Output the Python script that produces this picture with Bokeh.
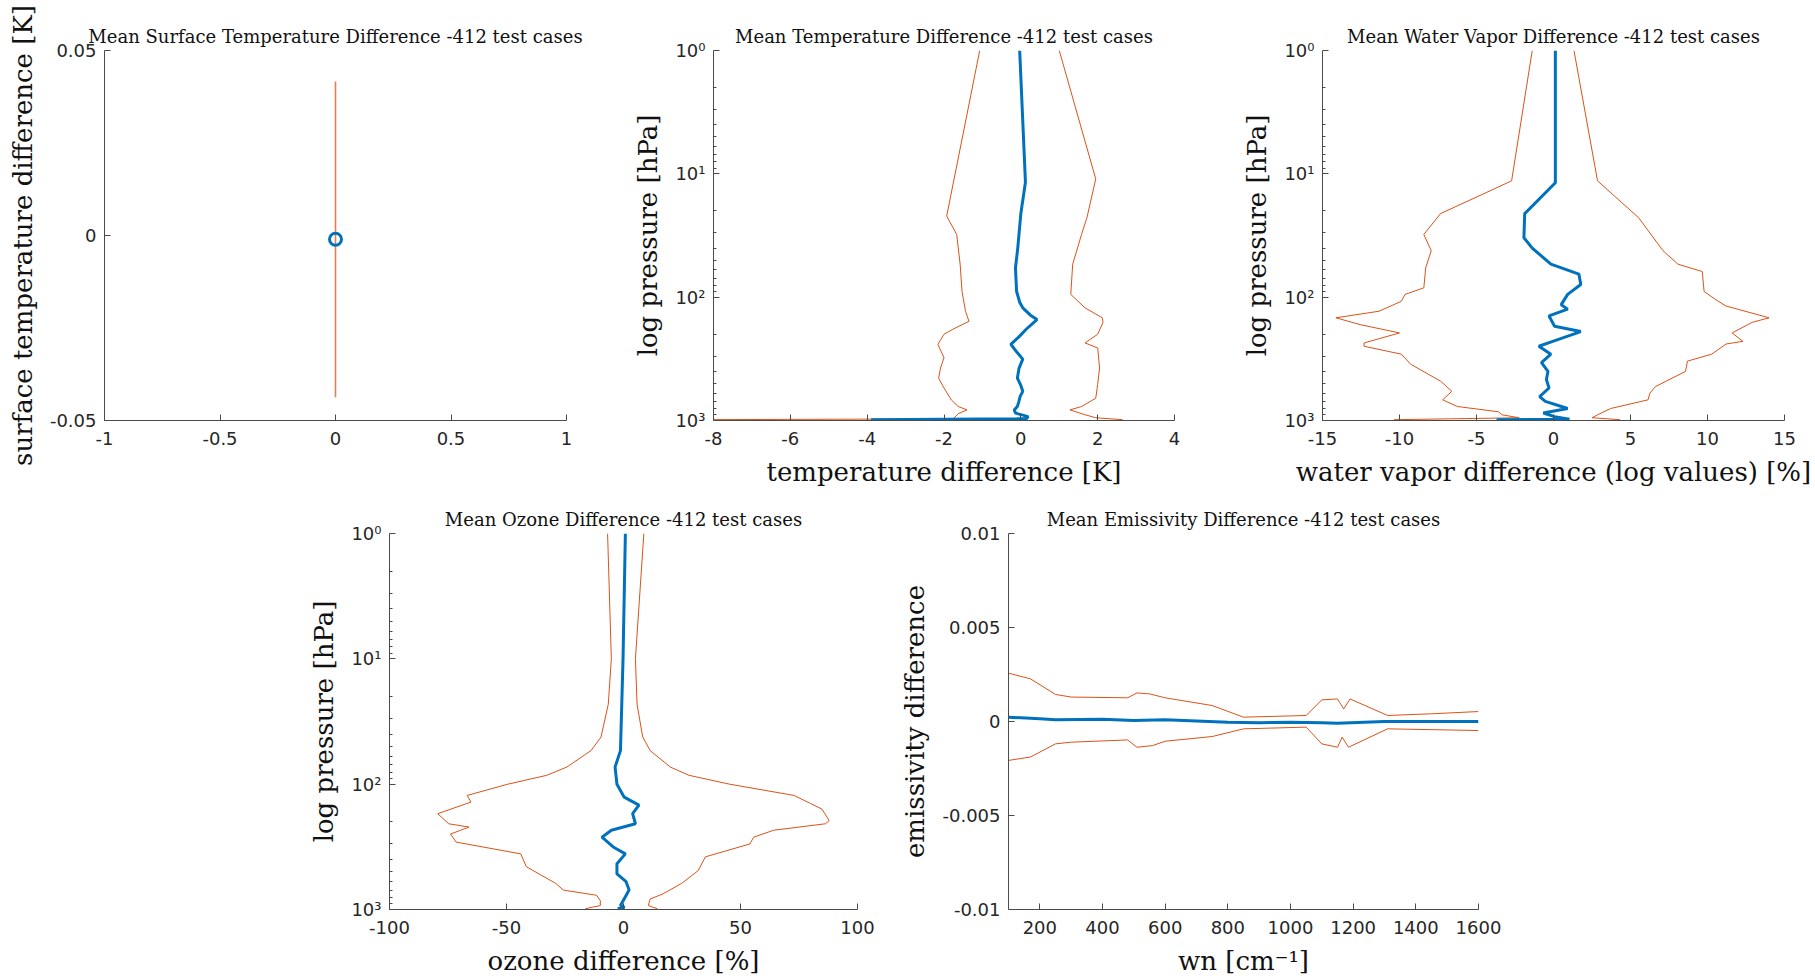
from bokeh.plotting import figure
from bokeh.models import Range1d, FixedTicker, Spacer
from bokeh.layouts import row, column
from bokeh.embed import file_html
from bokeh.resources import INLINE

# ---------------- data ----------------
# Surface temperature (single mean point with spread)
st_x = [0.0]
st_mean = [-0.001]
st_lo = [-0.0437]
st_hi = [0.0416]

# Temperature difference profiles [K] vs pressure [hPa]
temp_mean_p = [1, 11.7, 21, 40, 58, 90, 110, 122, 140, 152, 182, 210, 241, 280, 318, 380, 454, 520, 580, 640, 700, 770, 820, 870, 930, 965, 985]
temp_mean = [-0.03, 0.12, 0.0, -0.08, -0.14, -0.11, -0.03, 0.05, 0.25, 0.42, 0.14, -0.05, -0.26, -0.1, 0.05, -0.05, -0.09, 0.0, 0.05, -0.02, -0.05, -0.09, -0.17, -0.14, 0.19, 0.15, -3.9]
temp_lo_p = [1, 22, 31, 54, 90, 130, 157, 182, 200, 241, 310, 375, 454, 545, 680, 770, 820, 880, 940, 970, 985]
temp_lo = [-1.07, -1.93, -1.67, -1.58, -1.53, -1.44, -1.35, -1.77, -2.0, -2.16, -2.0, -2.09, -2.14, -2.0, -1.81, -1.63, -1.4, -1.63, -1.72, -1.77, -8.5]
temp_hi_p = [1, 11, 22.7, 31, 54, 95, 122, 147, 160, 200, 235, 258, 375, 510, 660, 770, 820, 890, 950, 985]
temp_hi = [1.0, 1.95, 1.72, 1.58, 1.35, 1.3, 1.67, 2.12, 2.14, 2.0, 1.67, 2.0, 2.05, 2.0, 1.95, 1.58, 1.28, 1.63, 1.95, 2.65]

# Water vapour difference profiles [%]
wv_mean_p = [1, 11.8, 21, 33, 40, 54, 65, 79, 95, 115, 125, 142, 172, 190, 228, 250, 290, 340, 400, 465, 545, 640, 700, 800, 870, 930, 975, 985]
wv_mean = [0.12, 0.12, -1.87, -1.92, -1.38, -0.17, 1.65, 1.77, 0.92, 0.5, 0.92, -0.29, 0.07, 1.77, -0.05, -0.95, -0.17, -0.78, -0.36, -0.46, -0.29, -0.9, -0.53, 0.92, -0.66, 0.07, 1.04, -3.7]
wv_lo_p = [1, 11.4, 21, 31, 42, 58, 84, 95, 108, 130, 147, 167, 195, 235, 250, 290, 350, 480, 580, 680, 770, 850, 900, 950, 985]
wv_lo = [-1.38, -2.72, -7.33, -8.42, -7.94, -8.3, -8.42, -9.64, -9.88, -11.33, -14.13, -12.55, -10.0, -12.3, -12.3, -9.88, -9.27, -7.33, -6.6, -7.2, -6.24, -3.57, -3.33, -2.23, -10.36]
wv_hi_p = [1, 11.4, 22.7, 42, 54, 62, 90, 104, 118, 147, 160, 195, 228, 240, 290, 330, 400, 530, 600, 680, 800, 900, 950, 985]
wv_hi = [1.33, 2.86, 5.53, 7.11, 8.08, 9.66, 9.78, 10.5, 11.2, 14.0, 12.9, 11.6, 12.3, 11.2, 10.27, 8.7, 8.57, 6.63, 6.26, 6.14, 3.7, 2.86, 2.5, 4.32]

# Ozone difference profiles [%]
oz_mean_p = [1, 10, 54, 73, 100, 127, 147, 172, 207, 233, 265, 317, 360, 432, 520, 600, 700, 790, 930, 960, 985]
oz_mean = [0.8, -0.2, -1.3, -3.6, -2.8, 0.3, 6.6, 3.9, 5.1, -5.2, -9.2, -4.4, 0.8, -2.8, -2.8, 1.1, 2.4, 0.8, -1.3, 0.5, -2.5]
oz_lo_p = [1, 10, 23, 42, 54, 73, 85, 100, 123, 139, 172, 207, 220, 250, 290, 360, 456, 620, 700, 770, 850, 930, 985]
oz_lo = [-6.8, -5.2, -6.5, -9.6, -13.9, -24.2, -32.8, -49.4, -66.8, -65.2, -79.4, -74.7, -66.0, -73.9, -71.5, -43.9, -41.5, -28.9, -25.7, -11.5, -9.9, -9.9, -16.3]
oz_hi_p = [1, 10, 23, 42, 54, 73, 85, 100, 123, 143, 158, 195, 207, 233, 265, 300, 380, 490, 620, 750, 825, 930, 985]
oz_hi = [8.7, 5.1, 5.8, 8.2, 11.4, 20, 28, 45.3, 72.9, 80, 84.8, 87.9, 86.3, 64.2, 55.6, 54, 35, 31.9, 24.8, 16.9, 11.4, 10.6, 14.5]

# Emissivity difference vs wavenumber [cm-1]
em_mean_wn = [100, 200, 250, 400, 500, 600, 800, 900, 1000, 1100, 1150, 1300, 1600]
em_mean = [0.00023, 0.00014, 0.00009, 0.00012, 0.00005, 0.00009, -0.00004, -0.00007, -0.00004, -0.00007, -0.00009, 0.0, 0.0]
em_hi_wn = [100, 170, 250, 300, 480, 510, 550, 600, 750, 850, 1050, 1100, 1150, 1160, 1170, 1190, 1310, 1450, 1600]
em_hi = [0.00257, 0.00227, 0.00144, 0.0013, 0.00126, 0.00152, 0.00147, 0.00126, 0.00085, 0.00023, 0.00032, 0.00115, 0.0012, 0.00094, 0.00067, 0.0012, 0.00032, 0.00041, 0.00053]
em_lo_wn = [100, 170, 250, 300, 480, 510, 560, 600, 750, 850, 1050, 1100, 1150, 1165, 1185, 1310, 1600]
em_lo = [-0.00207, -0.00189, -0.00119, -0.0011, -0.00098, -0.00137, -0.00128, -0.00105, -0.0008, -0.00039, -0.0003, -0.00119, -0.00137, -0.00083, -0.00137, -0.00039, -0.00048]

# Ticks
p_ticks = [1, 10, 100, 1000]
p_tick_labels = ["10\u2070", "10\u00b9", "10\u00b2", "10\u00b3"]
p_minor = [m * d for d in (1, 10, 100) for m in range(2, 10)]
st_xticks = [-1, -0.5, 0, 0.5, 1]
st_xlabels = ["-1", "-0.5", "0", "0.5", "1"]
st_yticks = [-0.05, 0, 0.05]
st_ylabels = ["-0.05", "0", "0.05"]
temp_xticks = [-8, -6, -4, -2, 0, 2, 4]
temp_xlabels = ["-8", "-6", "-4", "-2", "0", "2", "4"]
wv_xticks = [-15, -10, -5, 0, 5, 10, 15]
wv_xlabels = ["-15", "-10", "-5", "0", "5", "10", "15"]
oz_xticks = [-100, -50, 0, 50, 100]
oz_xlabels = ["-100", "-50", "0", "50", "100"]
em_xticks = [200, 400, 600, 800, 1000, 1200, 1400, 1600]
em_xlabels = ["200", "400", "600", "800", "1000", "1200", "1400", "1600"]
em_yticks = [-0.01, -0.005, 0, 0.005, 0.01]
em_ylabels = ["-0.01", "-0.005", "0", "0.005", "0.01"]

# ---------------- styling ----------------
BLUE = "#0072BD"
ORANGE = "#D95319"
AXC = "#4a4a4a"
TXT = "#262626"
SERIF = "DejaVu Serif"
SANS = "DejaVu Sans"


def make_fig(title, xr, yr, fw, fh, bl, bt, br, bb, log=False):
    kw = dict(frame_width=fw, frame_height=fh, min_border_left=bl, min_border_top=bt,
              min_border_right=br, min_border_bottom=bb, x_range=xr, y_range=yr,
              output_backend="svg", toolbar_location=None, title=title,
              background_fill_color="white", border_fill_color="white")
    if log:
        kw["y_axis_type"] = "log"
    p = figure(**kw)
    p.outline_line_color = None
    p.xgrid.grid_line_color = None
    p.ygrid.grid_line_color = None
    p.title.text_font = SERIF
    p.title.text_font_size = "18px"
    p.title.text_font_style = "normal"
    p.title.text_color = "#111111"
    p.title.align = "center"
    p.title.standoff = 8
    for ax in (p.xaxis[0], p.yaxis[0]):
        ax.axis_line_color = AXC
        ax.axis_line_width = 1
        ax.major_tick_line_color = AXC
        ax.minor_tick_line_color = AXC
        ax.major_tick_in = 6
        ax.major_tick_out = 0
        ax.minor_tick_in = 3
        ax.minor_tick_out = 0
        ax.major_label_text_font = SANS
        ax.major_label_text_font_size = "18px"
        ax.major_label_text_color = TXT
        ax.axis_label_text_font = SERIF
        ax.axis_label_text_font_size = "26px"
        ax.axis_label_text_font_style = "normal"
        ax.axis_label_text_color = "#111111"
        ax.axis_label_standoff = 9
    p.yaxis[0].major_label_standoff = 8
    p.xaxis[0].major_label_standoff = 11
    return p


def set_ticks(axis, ticks, labels, minor=None):
    axis.ticker = FixedTicker(ticks=ticks, minor_ticks=minor or [])
    axis.major_label_overrides = {t: l for t, l in zip(ticks, labels)}
    if not minor:
        axis.minor_tick_line_color = None


# Plot 1: surface temperature
p1 = make_fig("Mean Surface Temperature Difference -412 test cases",
              Range1d(-1, 1), Range1d(-0.05, 0.05), 462, 370, 104, 50, 40, 70)
set_ticks(p1.xaxis[0], st_xticks, st_xlabels)
set_ticks(p1.yaxis[0], st_yticks, st_ylabels)
p1.yaxis[0].axis_label = "surface temperature difference [K]"
p1.segment(x0=st_x, y0=st_lo, x1=st_x, y1=st_hi, line_color=ORANGE, line_width=1.6, line_alpha=0.75)
p1.scatter(st_x, st_mean, marker="circle", size=12, fill_color=None, line_color=BLUE, line_width=3)

# Plot 2: temperature
p2 = make_fig("Mean Temperature Difference -412 test cases",
              Range1d(-8, 4), Range1d(1000, 1), 461, 370, 107, 50, 41, 70, log=True)
set_ticks(p2.xaxis[0], temp_xticks, temp_xlabels)
set_ticks(p2.yaxis[0], p_ticks, p_tick_labels, p_minor)
p2.xaxis[0].axis_label = "temperature difference [K]"
p2.yaxis[0].axis_label = "log pressure [hPa]"
p2.line(temp_lo, temp_lo_p, line_color=ORANGE, line_width=1)
p2.line(temp_hi, temp_hi_p, line_color=ORANGE, line_width=1)
p2.line(temp_mean, temp_mean_p, line_color=BLUE, line_width=3)

# Plot 3: water vapour
p3 = make_fig("Mean Water Vapor Difference -412 test cases",
              Range1d(-15, 15), Range1d(1000, 1), 462, 370, 107, 50, 31, 70, log=True)
set_ticks(p3.xaxis[0], wv_xticks, wv_xlabels)
set_ticks(p3.yaxis[0], p_ticks, p_tick_labels, p_minor)
p3.xaxis[0].axis_label = "water vapor difference (log values) [%]"
p3.yaxis[0].axis_label = "log pressure [hPa]"
p3.line(wv_lo, wv_lo_p, line_color=ORANGE, line_width=1)
p3.line(wv_hi, wv_hi_p, line_color=ORANGE, line_width=1)
p3.line(wv_mean, wv_mean_p, line_color=BLUE, line_width=3)

# Plot 4: ozone
p4 = make_fig("Mean Ozone Difference -412 test cases",
              Range1d(-100, 100), Range1d(1000, 1), 468, 376, 100, 43, 40, 70, log=True)
set_ticks(p4.xaxis[0], oz_xticks, oz_xlabels)
set_ticks(p4.yaxis[0], p_ticks, p_tick_labels, p_minor)
p4.xaxis[0].axis_label = "ozone difference [%]"
p4.yaxis[0].axis_label = "log pressure [hPa]"
p4.line(oz_lo, oz_lo_p, line_color=ORANGE, line_width=1)
p4.line(oz_hi, oz_hi_p, line_color=ORANGE, line_width=1)
p4.line(oz_mean, oz_mean_p, line_color=BLUE, line_width=3)

# Plot 5: emissivity
p5 = make_fig("Mean Emissivity Difference -412 test cases",
              Range1d(100, 1600), Range1d(-0.01, 0.01), 470, 376, 110, 43, 30, 70)
set_ticks(p5.xaxis[0], em_xticks, em_xlabels)
set_ticks(p5.yaxis[0], em_yticks, em_ylabels)
p5.xaxis[0].axis_label = "wn [cm\u207b\u00b9]"
p5.yaxis[0].axis_label = "emissivity difference"
p5.line(em_hi_wn, em_hi, line_color=ORANGE, line_width=1)
p5.line(em_lo_wn, em_lo, line_color=ORANGE, line_width=1)
p5.line(em_mean_wn, em_mean, line_color=BLUE, line_width=3)

layout = column(
    row(p1, p2, p3, spacing=0),
    row(Spacer(width=289, height=489), p4, p5, spacing=0),
    spacing=0,
)

open("out.html", "w").write(file_html(layout, INLINE))
